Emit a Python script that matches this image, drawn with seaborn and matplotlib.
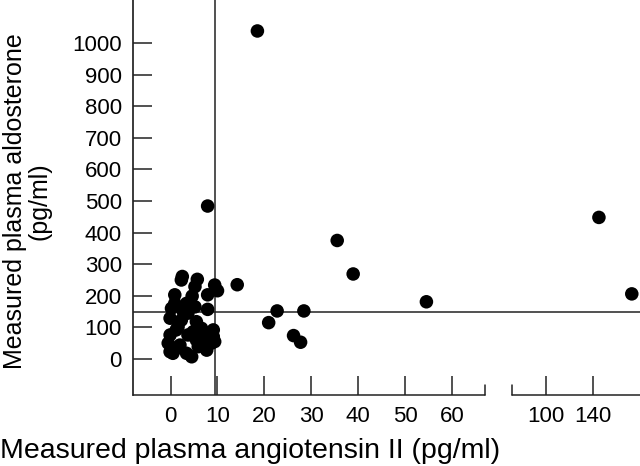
"""Aldosterone vs angiotensin II scatter with a broken x axis."""
import matplotlib
matplotlib.use("Agg")
import matplotlib.pyplot as plt
import numpy as np
import pandas as pd
import seaborn as sns

sns.set_theme(style="ticks")
plt.rcParams["font.family"] = ["Liberation Sans", "DejaVu Sans"]

# angiotensin II (pg/ml) and aldosterone (pg/ml)
angiotensin = [
    2.3, 5.7, 9.4, 5.2, 10.0, 0.9, 4.6, 7.9, 0.2, 3.4, 3.7, 7.9, -0.1, 2.3,
    5.5, 1.6, 6.6, 9.1, -0.1, 3.7, 7.3, -0.5, 2.0, 9.4, 5.9, -0.1, 3.4, 4.5,
    7.7, 1.3, 9.1, 5.2, 0.9, 2.7, 4.8, 2.5, 5.5, 1.2, 0.5, 8.7,
    18.5, 7.9, 35.5, 38.9, 14.2, 22.7, 28.4, 20.9, 26.2, 27.7, 54.5,
    145.0, 173.0,
]
aldosterone = [
    250, 252, 234, 229, 216, 203, 199, 203, 160, 176, 145, 157, 129, 123,
    118, 102, 97, 92, 76, 76, 66, 50, 44, 55, 39, 23, 18, 7,
    28, 34, 71, 165, 176, 150, 86, 261, 60, 92, 18, 50,
    1038, 484, 375, 269, 235, 152, 152, 115, 74, 53, 181,
    448, 206,
]

x_ticks = [0, 10, 20, 30, 40, 50, 60, 100, 140]
y_ticks = [0, 100, 200, 300, 400, 500, 600, 700, 800, 900, 1000]
x_cut = 9.5      # vertical reference line
y_cut = 150      # horizontal reference line

# piecewise scale: 0-67 linear, gap, then compressed segment from 71 on
bp_data = [-1000, 67, 71, 1000]
bp_axis = [-1000, 67, 72.75, 72.75 + (1000 - 71) * 0.25]


def _fwd(x):
    return np.interp(x, bp_data, bp_axis)


def _inv(x):
    return np.interp(x, bp_axis, bp_data)


df = pd.DataFrame({"ang": angiotensin, "ald": aldosterone})

fig = plt.figure(figsize=(6.4, 4.66), dpi=100)
ax = fig.add_axes([133 / 640, 71 / 466, 507 / 640, 395 / 466])
ax.set_xscale("function", functions=(_fwd, _inv))

sns.scatterplot(data=df, x="ang", y="ald", ax=ax, color="black",
                edgecolor="none", s=95, clip_on=False, zorder=3)

ax.axvline(x_cut, color="#222222", lw=1.1)
ax.axhline(y_cut, color="#222222", lw=1.1)

# broken bottom axis
ax.spines[["top", "right", "bottom"]].set_visible(False)
ax.spines["left"].set_color("#222222")
trans = ax.get_xaxis_transform()
for seg, end in (((-8, 67), 67), ((71, 180), 71)):
    ax.plot(seg, [0, 0], transform=trans, color="#222222", lw=1.1, clip_on=False)
    ax.plot([end, end], [0, 0.026], transform=trans, color="#222222", lw=1.1,
            clip_on=False)

ax.set_xlim(-8, 180)
ax.set_ylim(-114, 1136)
ax.set_xticks(x_ticks)
ax.set_xticklabels([str(t) for t in x_ticks])
ax.set_yticks(y_ticks)
ax.minorticks_off()
ax.tick_params(direction="in", length=14, width=1.1, color="#222222",
               labelsize=16, pad=8, labelcolor="black")

ax.set_xlabel("Measured plasma angiotensin II (pg/ml)", fontsize=20.5,
              color="black")
ax.xaxis.set_label_coords(0.23, -0.108)
ax.set_ylabel("Measured plasma aldosterone\n(pg/ml)", fontsize=18,
              linespacing=1.05, color="black")
ax.yaxis.set_label_coords(-0.16, 0.49)

fig.savefig("out.png", dpi=100)
